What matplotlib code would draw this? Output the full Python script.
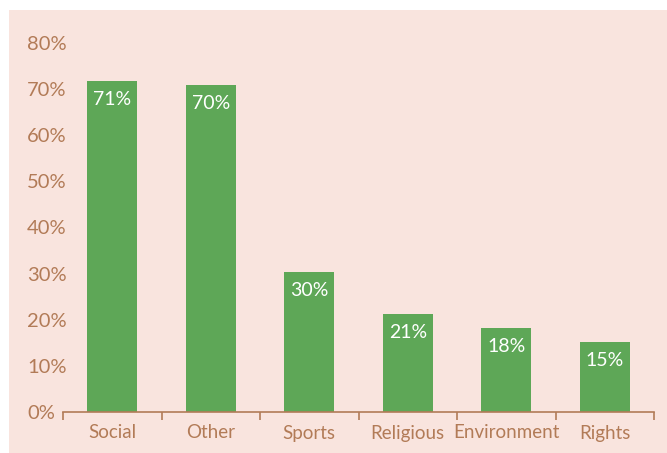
import matplotlib
matplotlib.use("Agg")
import matplotlib.pyplot as plt
from matplotlib.patches import Rectangle

categories = ["Social", "Other", "Sports", "Religious", "Environment", "Rights"]
values = [71.8, 70.8, 30.4, 21.2, 18.2, 15.2]
value_labels = ["71%", "70%", "30%", "21%", "18%", "15%"]
yticks = [0, 10, 20, 30, 40, 50, 60, 70, 80]

BG = "#F9E4DE"
GREEN = "#5EA757"
BROWN = "#B27B57"

plt.rcParams["font.family"] = ["Lato", "DejaVu Sans"]

fig = plt.figure(figsize=(6.67, 4.53), dpi=100)
# pink panel behind the axes (white margin on the left and top)
fig.patches.append(Rectangle((9 / 667, 0), 1 - 9 / 667, 1 - 10 / 453,
                             transform=fig.transFigure, facecolor=BG,
                             edgecolor="none", zorder=-10))
ax = fig.add_axes([63 / 667, 41 / 453, 591 / 667, 369 / 453])
ax.set_facecolor("none")

x = list(range(len(categories)))
ax.bar(x, values, width=0.51, color=GREEN, zorder=2)
for xi, v, lab in zip(x, values, value_labels):
    ax.annotate(lab, (xi, v), xytext=(0, -7), textcoords="offset points",
                ha="center", va="top", color="white", fontsize=14)

ax.set_xlim(-0.5, len(categories) - 0.5)
ax.set_ylim(0, 80)
ax.set_xticks(x)
ax.set_xticklabels(categories)
ax.set_xticks([i - 0.5 for i in range(len(categories) + 1)], minor=True)
ax.set_yticks(yticks)
ax.set_yticklabels([f"{t}%" for t in yticks], ha="left")

for s in ["top", "right", "left"]:
    ax.spines[s].set_visible(False)
ax.spines["bottom"].set_color(BROWN)
ax.spines["bottom"].set_linewidth(1.2)
ax.tick_params(axis="x", which="major", length=0, pad=9, labelsize=13.5,
               labelcolor=BROWN)
ax.tick_params(axis="x", which="minor", length=6, width=1.2, color=BROWN,
               direction="out")
ax.tick_params(axis="y", length=0, pad=26, labelsize=14.5, labelcolor=BROWN)

fig.savefig("out.png", dpi=100, facecolor="white")
